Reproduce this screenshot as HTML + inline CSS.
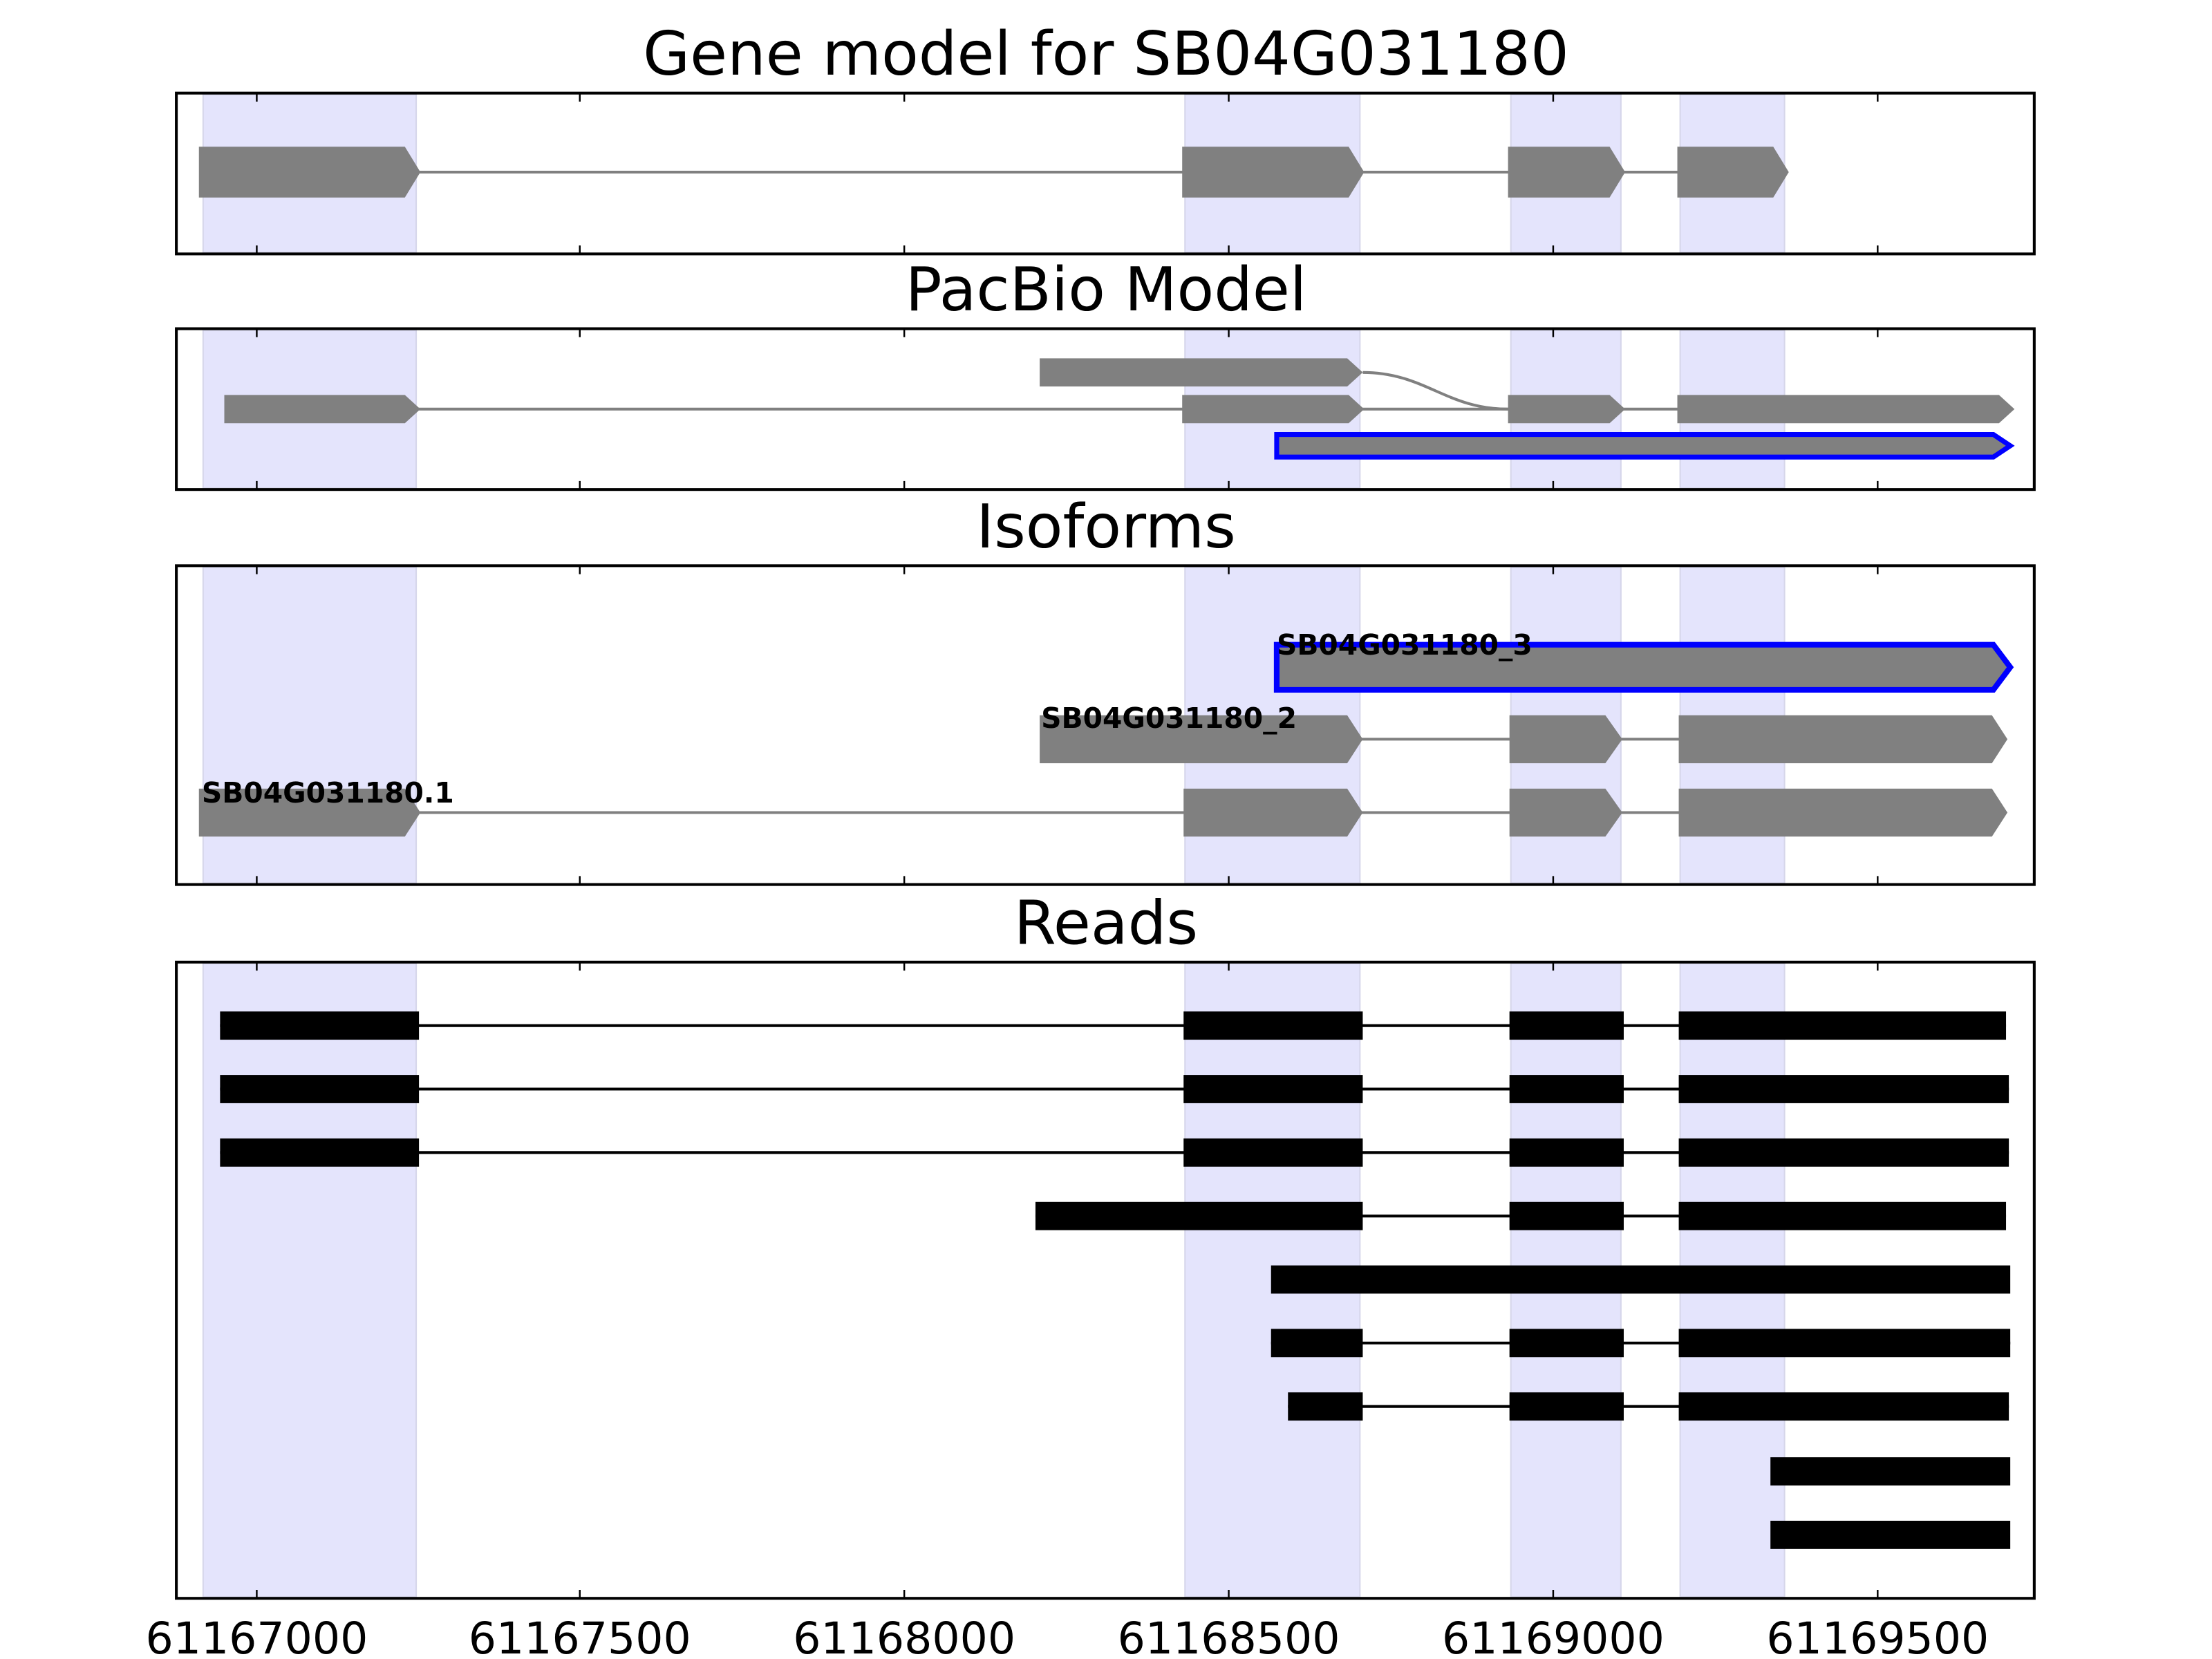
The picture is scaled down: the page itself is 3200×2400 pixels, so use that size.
<!DOCTYPE html>
<html><head><meta charset="utf-8"><style>html,body{margin:0;padding:0;background:#fff}svg{display:block}</style></head>
<body>
<svg width="3200" height="2400" viewBox="0 0 1568 1176" preserveAspectRatio="none" xmlns="http://www.w3.org/2000/svg" font-family="'DejaVu Sans','Liberation Sans',sans-serif">
<g fill="#e4e4fc" stroke="#d6d6ea" stroke-width="1">
<rect x="144" y="67" width="151" height="112"/><rect x="840" y="67" width="124" height="112"/><rect x="1071" y="67" width="78" height="112"/><rect x="1191" y="67" width="74" height="112"/>
<rect x="144" y="234" width="151" height="112"/><rect x="840" y="234" width="124" height="112"/><rect x="1071" y="234" width="78" height="112"/><rect x="1191" y="234" width="74" height="112"/>
<rect x="144" y="402" width="151" height="224"/><rect x="840" y="402" width="124" height="224"/><rect x="1071" y="402" width="78" height="224"/><rect x="1191" y="402" width="74" height="224"/>
<rect x="144" y="683" width="151" height="449"/><rect x="840" y="683" width="124" height="449"/><rect x="1071" y="683" width="78" height="449"/><rect x="1191" y="683" width="74" height="449"/>
</g>
<g font-size="43" text-anchor="middle" fill="#000">
<text x="784" y="53">Gene model for SB04G031180</text>
<text x="784" y="220">PacBio Model</text>
<text x="784" y="388">Isoforms</text>
<text x="784" y="669">Reads</text>
</g>
<g stroke="#808080" stroke-width="2"><line x1="290" y1="122" x2="1260" y2="122"/></g>
<g fill="#808080">
<polygon points="141,104 287,104 298,122 287,140 141,140"/>
<polygon points="838,104 956,104 967,122 956,140 838,140"/>
<polygon points="1069,104 1141,104 1152,122 1141,140 1069,140"/>
<polygon points="1189,104 1257,104 1268,122 1257,140 1189,140"/>
</g>
<g stroke="#808080" stroke-width="2" fill="none">
<line x1="290" y1="290" x2="1420" y2="290"/>
<path d="M966,264 C1010,264 1025,290 1069,290"/>
</g>
<g fill="#808080">
<polygon points="737,254 955,254 966,264 955,274 737,274"/>
<polygon points="159,280 287,280 298,290 287,300 159,300"/>
<polygon points="838,280 956,280 967,290 956,300 838,300"/>
<polygon points="1069,280 1141,280 1152,290 1141,300 1069,300"/>
<polygon points="1189,280 1417,280 1428,290 1417,300 1189,300"/>
<polygon points="905,308 1413,308 1425,316 1413,324 905,324" stroke="#0000ff" stroke-width="3.5"/>
</g>
<g stroke="#808080" stroke-width="2">
<line x1="960" y1="524" x2="1200" y2="524"/>
<line x1="290" y1="576" x2="1200" y2="576"/>
</g>
<g fill="#808080">
<polygon points="905,457 1413,457 1425,473 1413,489 905,489" stroke="#0000ff" stroke-width="4"/>
<polygon points="737,507 955,507 966,524 955,541 737,541"/>
<polygon points="1070,507 1138,507 1150,524 1138,541 1070,541"/>
<polygon points="1190,507 1412,507 1423,524 1412,541 1190,541"/>
<polygon points="141,559 287,559 298,576 287,593 141,593"/>
<polygon points="839,559 955,559 966,576 955,593 839,593"/>
<polygon points="1070,559 1138,559 1150,576 1138,593 1070,593"/>
<polygon points="1190,559 1412,559 1423,576 1412,593 1190,593"/>
</g>
<g font-size="20" font-weight="bold" fill="#000">
<text x="905" y="464">SB04G031180_3</text>
<text x="738" y="516">SB04G031180_2</text>
<text x="143" y="569">SB04G031180.1</text>
</g>
<g stroke="#000" stroke-width="2">
<line x1="156" y1="727" x2="1422" y2="727"/>
<line x1="156" y1="772" x2="1424" y2="772"/>
<line x1="156" y1="817" x2="1424" y2="817"/>
<line x1="734" y1="862" x2="1422" y2="862"/>
<line x1="901" y1="952" x2="1425" y2="952"/>
<line x1="913" y1="997" x2="1424" y2="997"/>
</g>
<g fill="#000">
<rect x="156" y="717" width="141" height="20"/><rect x="839" y="717" width="127" height="20"/><rect x="1070" y="717" width="81" height="20"/><rect x="1190" y="717" width="232" height="20"/>
<rect x="156" y="762" width="141" height="20"/><rect x="839" y="762" width="127" height="20"/><rect x="1070" y="762" width="81" height="20"/><rect x="1190" y="762" width="234" height="20"/>
<rect x="156" y="807" width="141" height="20"/><rect x="839" y="807" width="127" height="20"/><rect x="1070" y="807" width="81" height="20"/><rect x="1190" y="807" width="234" height="20"/>
<rect x="734" y="852" width="232" height="20"/><rect x="1070" y="852" width="81" height="20"/><rect x="1190" y="852" width="232" height="20"/>
<rect x="901" y="897" width="524" height="20"/>
<rect x="901" y="942" width="65" height="20"/><rect x="1070" y="942" width="81" height="20"/><rect x="1190" y="942" width="235" height="20"/>
<rect x="913" y="987" width="53" height="20"/><rect x="1070" y="987" width="81" height="20"/><rect x="1190" y="987" width="234" height="20"/>
<rect x="1255" y="1033" width="170" height="20"/>
<rect x="1255" y="1078" width="170" height="20"/>
</g>
<g fill="none" stroke="#000" stroke-width="2">
<rect x="125" y="66" width="1317" height="114"/>
<rect x="125" y="233" width="1317" height="114"/>
<rect x="125" y="401" width="1317" height="226"/>
<rect x="125" y="682" width="1317" height="451"/>
</g>
<g stroke="#000" stroke-width="1.2">
<path d="M182,66v6M411,66v6M641,66v6M871,66v6M1101,66v6M1331,66v6 M182,180v-6M411,180v-6M641,180v-6M871,180v-6M1101,180v-6M1331,180v-6"/>
<path d="M182,233v6M411,233v6M641,233v6M871,233v6M1101,233v6M1331,233v6 M182,347v-6M411,347v-6M641,347v-6M871,347v-6M1101,347v-6M1331,347v-6"/>
<path d="M182,401v6M411,401v6M641,401v6M871,401v6M1101,401v6M1331,401v6 M182,627v-6M411,627v-6M641,627v-6M871,627v-6M1101,627v-6M1331,627v-6"/>
<path d="M182,682v6M411,682v6M641,682v6M871,682v6M1101,682v6M1331,682v6 M182,1133v-6M411,1133v-6M641,1133v-6M871,1133v-6M1101,1133v-6M1331,1133v-6"/>
</g>
<g font-size="31" text-anchor="middle" fill="#000">
<text x="182" y="1172">61167000</text>
<text x="411" y="1172">61167500</text>
<text x="641" y="1172">61168000</text>
<text x="871" y="1172">61168500</text>
<text x="1101" y="1172">61169000</text>
<text x="1331" y="1172">61169500</text>
</g>
</svg>
</body></html>
